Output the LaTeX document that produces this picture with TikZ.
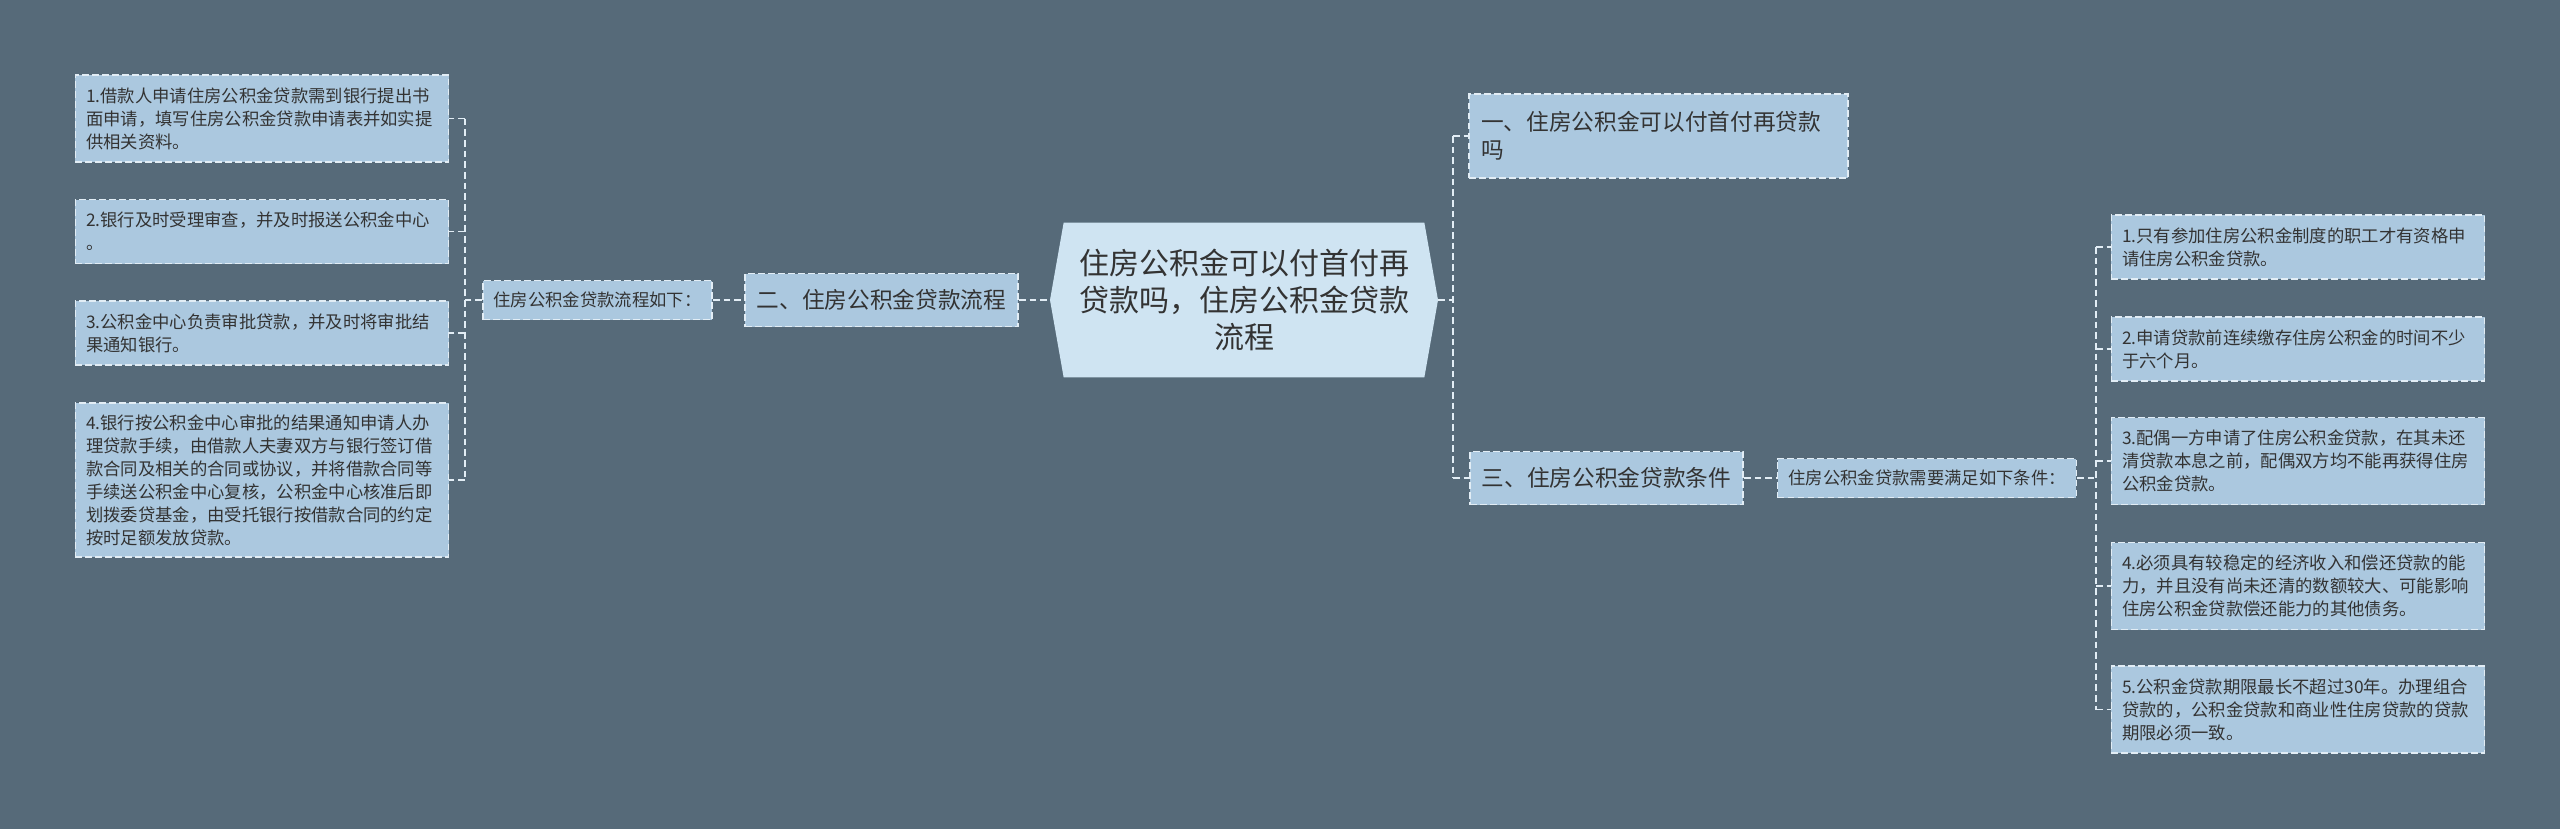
\documentclass[tikz,border=0pt]{standalone}
\usepackage{fontspec}
\setmainfont{Noto Sans CJK SC}
\usetikzlibrary{shapes.symbols}
\definecolor{bgslate}{HTML}{566A79}
\definecolor{boxfill}{HTML}{ABC8DF}
\definecolor{rootfill}{HTML}{CFE4F2}
\definecolor{dashline}{HTML}{E2EDF5}
\definecolor{inktext}{HTML}{333333}

\begin{document}
\begin{tikzpicture}[x=0.75pt,y=-0.75pt]
% Styles
\tikzset{link/.style={draw=dashline, line width=1.1pt, dash pattern=on 5pt off 3pt}}
\tikzset{box/.style={fill=boxfill, draw=dashline, line width=1.1pt, dash pattern=on 5pt off 2.5pt, text=inktext, inner ysep=0pt}}
\tikzset{leaf/.style={box, inner xsep=8pt, text width=264pt, align=left, font=\fontsize{13pt}{17.25pt}\selectfont, minimum height=48pt}}
\tikzset{leafthree/.style={leaf, minimum height=65.25pt}}
\tikzset{leafsix/.style={leaf, minimum height=115.5pt}}
\tikzset{note/.style={box, inner xsep=8pt, font=\fontsize{13pt}{17.25pt}\selectfont, minimum height=29.25pt}}
\tikzset{branch/.style={box, inner xsep=9pt, font=\fontsize{17pt}{21pt}\selectfont, minimum height=39.75pt}}
\tikzset{rootnode/.style={shape=signal, signal to=west and east, signal pointer angle=160, fill=rootfill, text=inktext, align=center, minimum width=291pt, minimum height=116pt, font=\fontsize{22.5pt}{28pt}\selectfont}}

% Background
\useasboundingbox (0,0) rectangle (2560,829);
\fill[bgslate] (0,0) rectangle (2560,829);

% Root
\node[rootnode] (root) at (1244,300) {住房公积金可以付首付再\\贷款吗，住房公积金贷款\\流程};

% Left side
\node[branch] (sec2) at (881.5,300) {二、住房公积金贷款流程};
\node[note] (flow) at (597.5,300) {住房公积金贷款流程如下：};
\coordinate (lspine) at (465,300);

\node[leafthree] (l1) at (262,118.5) {1.借款人申请住房公积金贷款需到银行提出书\\面申请，填写住房公积金贷款申请表并如实提\\供相关资料。};
\node[leaf] (l2) at (262,231.5) {2.银行及时受理审查，并及时报送公积金中心\\。};
\node[leaf] (l3) at (262,333) {3.公积金中心负责审批贷款，并及时将审批结\\果通知银行。};
\node[leafsix] (l4) at (262,480) {4.银行按公积金中心审批的结果通知申请人办\\理贷款手续，由借款人夫妻双方与银行签订借\\款合同及相关的合同或协议，并将借款合同等\\手续送公积金中心复核，公积金中心核准后即\\划拨委贷基金，由受托银行按借款合同的约定\\按时足额发放贷款。};

% Right side
\node[branch, text width=266pt, align=left, minimum height=63pt] (sec1) at (1658.5,136) {一、住房公积金可以付首付再贷款\\吗};
\node[branch] (sec3) at (1606.5,478) {三、住房公积金贷款条件};
\node[note] (cond) at (1927,478) {住房公积金贷款需要满足如下条件：};
\coordinate (rspine) at (1453,300);
\coordinate (cspine) at (2096,478);

\node[leaf] (r1) at (2298,247) {1.只有参加住房公积金制度的职工才有资格申\\请住房公积金贷款。};
\node[leaf] (r2) at (2298,349) {2.申请贷款前连续缴存住房公积金的时间不少\\于六个月。};
\node[leafthree] (r3) at (2298,461) {3.配偶一方申请了住房公积金贷款，在其未还\\清贷款本息之前，配偶双方均不能再获得住房\\公积金贷款。};
\node[leafthree] (r4) at (2298,586) {4.必须具有较稳定的经济收入和偿还贷款的能\\力，并且没有尚未还清的数额较大、可能影响\\住房公积金贷款偿还能力的其他债务。};
\node[leafthree] (r5) at (2298,709.5) {5.公积金贷款期限最长不超过30年。办理组合\\贷款的，公积金贷款和商业性住房贷款的贷款\\期限必须一致。};

% Connectors -- root
\draw[link] (sec2.east) -- (root.west);
\draw[link] (root.east) -- (rspine);
\draw[link] (rspine |- sec1.west) -- (rspine |- sec3.west);
\foreach \n in {sec1,sec3} {
\draw[link] (rspine |- \n.west) -- (\n.west);
}

% Connectors -- left
\draw[link] (flow.east) -- (sec2.west);
\draw[link] (flow.west) -- (lspine);
\draw[link] (lspine |- l1.east) -- (lspine |- l4.east);
\foreach \n in {l1,l2,l3,l4} {
\draw[link] (lspine |- \n.east) -- (\n.east);
}

% Connectors -- right
\draw[link] (sec3.east) -- (cond.west);
\draw[link] (cond.east) -- (cspine);
\draw[link] (cspine |- r1.west) -- (cspine |- r5.west);
\foreach \n in {r1,r2,r3,r4,r5} {
\draw[link] (cspine |- \n.west) -- (\n.west);
}
\end{tikzpicture}
\end{document}
